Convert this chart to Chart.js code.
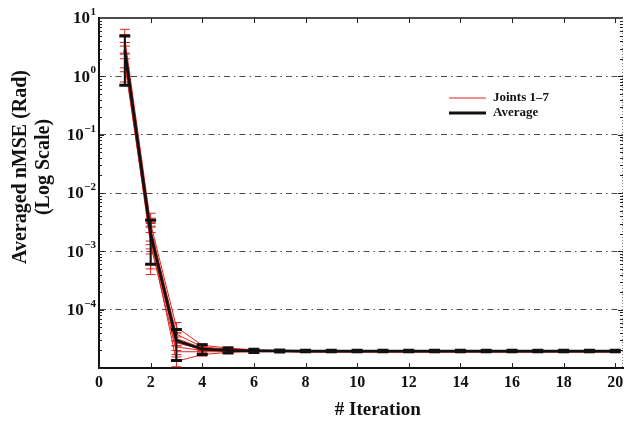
<!DOCTYPE html>
<html>
<head>
<meta charset="utf-8">
<script src="https://cdn.jsdelivr.net/npm/chart.js@4.4.1/dist/chart.umd.min.js"></script>
<style>
  html, body { margin: 0; padding: 0; background: #fff; }
  canvas { display: block; }
</style>
</head>
<body>
<canvas id="chart" width="625" height="425"></canvas>
<script>
// Iterations of the learning procedure
const iterations = [1, 2, 3, 4, 5, 6, 7, 8, 9, 10, 11, 12, 13, 14, 15, 16, 17, 18, 19, 20];

// Averaged nMSE over all joints (mean and standard deviation)
const averageMean = [2.8, 2.0e-3, 2.95e-5, 2.1e-5, 2.0e-5, 1.97e-5, 1.96e-5, 1.95e-5, 1.95e-5, 1.95e-5,
  1.95e-5, 1.95e-5, 1.95e-5, 1.95e-5, 1.95e-5, 1.95e-5, 1.95e-5, 1.95e-5, 1.95e-5, 1.95e-5];
const averageStd = [2.1, 1.4e-3, 1.6e-5, 0.4e-5, 0.2e-5, 0.12e-5, 0.08e-5, 0.06e-5, 0.06e-5, 0.06e-5,
  0.06e-5, 0.06e-5, 0.06e-5, 0.06e-5, 0.06e-5, 0.06e-5, 0.06e-5, 0.06e-5, 0.06e-5, 0.06e-5];

// Per-joint nMSE (mean and standard deviation)
const joint1Mean = [4.4, 3.0e-3, 5.0e-5, 2.45e-5, 2.2e-5, 2.05e-5, 2.0e-5, 1.99e-5, 1.99e-5, 1.99e-5,
  1.99e-5, 1.99e-5, 1.99e-5, 1.99e-5, 1.99e-5, 1.99e-5, 1.99e-5, 1.99e-5, 1.99e-5, 1.99e-5];
const joint1Std = [2.0, 1.5e-3, 1.0e-5, 0.15e-5, 0.1e-5, 0.06e-5, 0.05e-5, 0.03e-5, 0.03e-5, 0.03e-5,
  0.03e-5, 0.03e-5, 0.03e-5, 0.03e-5, 0.03e-5, 0.03e-5, 0.03e-5, 0.03e-5, 0.03e-5, 0.03e-5];
const joint2Mean = [3.5, 2.5e-3, 3.8e-5, 2.3e-5, 2.1e-5, 2.02e-5, 1.98e-5, 1.97e-5, 1.97e-5, 1.97e-5,
  1.97e-5, 1.97e-5, 1.97e-5, 1.97e-5, 1.97e-5, 1.97e-5, 1.97e-5, 1.97e-5, 1.97e-5, 1.97e-5];
const joint2Std = [1.5, 1.2e-3, 0.9e-5, 0.12e-5, 0.08e-5, 0.05e-5, 0.04e-5, 0.03e-5, 0.03e-5, 0.03e-5,
  0.03e-5, 0.03e-5, 0.03e-5, 0.03e-5, 0.03e-5, 0.03e-5, 0.03e-5, 0.03e-5, 0.03e-5, 0.03e-5];
const joint3Mean = [2.6, 2.1e-3, 3.2e-5, 2.2e-5, 2.05e-5, 2.0e-5, 1.97e-5, 1.95e-5, 1.95e-5, 1.95e-5,
  1.95e-5, 1.95e-5, 1.95e-5, 1.95e-5, 1.95e-5, 1.95e-5, 1.95e-5, 1.95e-5, 1.95e-5, 1.95e-5];
const joint3Std = [1.2, 1.0e-3, 0.8e-5, 0.1e-5, 0.08e-5, 0.05e-5, 0.04e-5, 0.03e-5, 0.03e-5, 0.03e-5,
  0.03e-5, 0.03e-5, 0.03e-5, 0.03e-5, 0.03e-5, 0.03e-5, 0.03e-5, 0.03e-5, 0.03e-5, 0.03e-5];
const joint4Mean = [2.3, 1.8e-3, 2.7e-5, 2.1e-5, 2.0e-5, 1.98e-5, 1.96e-5, 1.93e-5, 1.93e-5, 1.93e-5,
  1.93e-5, 1.93e-5, 1.93e-5, 1.93e-5, 1.93e-5, 1.93e-5, 1.93e-5, 1.93e-5, 1.93e-5, 1.93e-5];
const joint4Std = [1.5, 0.9e-3, 0.7e-5, 0.1e-5, 0.07e-5, 0.05e-5, 0.04e-5, 0.03e-5, 0.03e-5, 0.03e-5,
  0.03e-5, 0.03e-5, 0.03e-5, 0.03e-5, 0.03e-5, 0.03e-5, 0.03e-5, 0.03e-5, 0.03e-5, 0.03e-5];
const joint5Mean = [1.6, 1.6e-3, 2.3e-5, 2.0e-5, 1.95e-5, 1.96e-5, 1.95e-5, 1.91e-5, 1.91e-5, 1.91e-5,
  1.91e-5, 1.91e-5, 1.91e-5, 1.91e-5, 1.91e-5, 1.91e-5, 1.91e-5, 1.91e-5, 1.91e-5, 1.91e-5];
const joint5Std = [0.9, 1.0e-3, 0.6e-5, 0.1e-5, 0.07e-5, 0.05e-5, 0.04e-5, 0.03e-5, 0.03e-5, 0.03e-5,
  0.03e-5, 0.03e-5, 0.03e-5, 0.03e-5, 0.03e-5, 0.03e-5, 0.03e-5, 0.03e-5, 0.03e-5, 0.03e-5];
const joint6Mean = [2.0, 1.3e-3, 1.9e-5, 1.9e-5, 1.9e-5, 1.94e-5, 1.93e-5, 1.89e-5, 1.89e-5, 1.89e-5,
  1.89e-5, 1.89e-5, 1.89e-5, 1.89e-5, 1.89e-5, 1.89e-5, 1.89e-5, 1.89e-5, 1.89e-5, 1.89e-5];
const joint6Std = [1.3, 0.8e-3, 0.5e-5, 0.1e-5, 0.07e-5, 0.05e-5, 0.04e-5, 0.03e-5, 0.03e-5, 0.03e-5,
  0.03e-5, 0.03e-5, 0.03e-5, 0.03e-5, 0.03e-5, 0.03e-5, 0.03e-5, 0.03e-5, 0.03e-5, 0.03e-5];
const joint7Mean = [3.2, 1.7e-3, 1.3e-5, 1.7e-5, 1.85e-5, 1.9e-5, 1.9e-5, 1.87e-5, 1.87e-5, 1.87e-5,
  1.87e-5, 1.87e-5, 1.87e-5, 1.87e-5, 1.87e-5, 1.87e-5, 1.87e-5, 1.87e-5, 1.87e-5, 1.87e-5];
const joint7Std = [2.0, 1.3e-3, 0.25e-5, 0.1e-5, 0.07e-5, 0.05e-5, 0.04e-5, 0.03e-5, 0.03e-5, 0.03e-5,
  0.03e-5, 0.03e-5, 0.03e-5, 0.03e-5, 0.03e-5, 0.03e-5, 0.03e-5, 0.03e-5, 0.03e-5, 0.03e-5];

// Axis ticks
const xTickValues = [0, 2, 4, 6, 8, 10, 12, 14, 16, 18, 20];
const yDecadeExponents = [1, 0, -1, -2, -3, -4];

// Text
const xTitle = '# Iteration';
const yTitleLines = ['Averaged nMSE (Rad)', '(Log Scale)'];
const jointsLabel = 'Joints 1\u20137';
const averageLabel = 'Average';

const RED = '#e2231d';
const BLACK = '#111111';
const SERIF = '"Liberation Serif", "Times New Roman", serif';

const jointMeans = [joint1Mean, joint2Mean, joint3Mean, joint4Mean, joint5Mean, joint6Mean, joint7Mean];
const jointStds = [joint1Std, joint2Std, joint3Std, joint4Std, joint5Std, joint6Std, joint7Std];

const toPoints = (means) => iterations.map((it, i) => ({ x: it, y: means[i] }));

// Average first so it is drawn on top of the joints
const datasets = [{
  label: averageLabel,
  data: toPoints(averageMean),
  errors: averageStd,
  borderColor: BLACK,
  borderWidth: 2.8,
  barWidth: 2,
  capWidth: 3,
  capHalf: 5.5,
  pointRadius: 0,
  tension: 0
}];
jointMeans.forEach((m, j) => {
  datasets.push({
    label: jointsLabel,
    data: toPoints(m),
    errors: jointStds[j],
    borderColor: RED,
    borderWidth: 1,
    barWidth: 1,
    capWidth: 1,
    capHalf: 5,
    pointRadius: 0,
    tension: 0
  });
});

// Error bars, frame, inner ticks, superscript labels, titles and legend
const decor = {
  id: 'decor',
  afterDatasetDraw(chart, args) {
    const ds = chart.data.datasets[args.index];
    const { ctx, scales: { x, y } } = chart;
    ctx.save();
    ctx.strokeStyle = ds.borderColor;
    ds.data.forEach((p, i) => {
      const s = ds.errors[i];
      const px = x.getPixelForValue(p.x);
      const top = y.getPixelForValue(p.y + s);
      const bot = y.getPixelForValue(p.y - s);
      ctx.lineWidth = ds.barWidth;
      ctx.beginPath();
      ctx.moveTo(px, top);
      ctx.lineTo(px, bot);
      ctx.stroke();
      ctx.lineWidth = ds.capWidth;
      ctx.beginPath();
      ctx.moveTo(px - ds.capHalf, top);
      ctx.lineTo(px + ds.capHalf, top);
      ctx.moveTo(px - ds.capHalf, bot);
      ctx.lineTo(px + ds.capHalf, bot);
      ctx.stroke();
    });
    ctx.restore();
  },
  afterDraw(chart) {
    const { ctx, chartArea: a, scales: { x, y } } = chart;
    ctx.save();

    // top border
    ctx.strokeStyle = BLACK;
    ctx.lineWidth = 1.5;
    ctx.beginPath();
    ctx.moveTo(a.left, a.top);
    ctx.lineTo(a.right, a.top);
    ctx.stroke();

    // right border
    ctx.strokeStyle = '#888';
    ctx.lineWidth = 1;
    ctx.setLineDash([1, 2]);
    ctx.beginPath();
    ctx.moveTo(a.right - 0.5, a.top);
    ctx.lineTo(a.right - 0.5, a.bottom);
    ctx.stroke();
    ctx.setLineDash([]);

    // x ticks (inside, top and bottom)
    ctx.strokeStyle = '#222';
    ctx.lineWidth = 1;
    xTickValues.forEach(v => {
      const px = Math.round(x.getPixelForValue(v)) + 0.5;
      ctx.beginPath();
      ctx.moveTo(px, a.bottom);
      ctx.lineTo(px, a.bottom - 5);
      ctx.moveTo(px, a.top);
      ctx.lineTo(px, a.top + 5);
      ctx.stroke();
    });

    // y ticks (inside, left and right), decades and minor
    for (let e = -5; e <= 0; e++) {
      for (let k = 1; k <= 9; k++) {
        const v = k * Math.pow(10, e);
        const py = Math.round(y.getPixelForValue(v)) + 0.5;
        const len = k === 1 ? 5 : 3;
        ctx.beginPath();
        ctx.moveTo(a.left, py);
        ctx.lineTo(a.left + len, py);
        ctx.moveTo(a.right, py);
        ctx.lineTo(a.right - len, py);
        ctx.stroke();
      }
    }

    ctx.fillStyle = BLACK;

    // x tick labels
    ctx.font = 'bold 16px ' + SERIF;
    ctx.textAlign = 'center';
    ctx.textBaseline = 'middle';
    xTickValues.forEach(v => {
      ctx.fillText(String(v), x.getPixelForValue(v), a.bottom + 15);
    });

    // y tick labels as 10 with a superscript exponent
    yDecadeExponents.forEach(e => {
      const py = y.getPixelForValue(Math.pow(10, e));
      const expText = e < 0 ? '\u2212' + Math.abs(e) : String(e);
      ctx.font = 'bold 11px ' + SERIF;
      const expW = ctx.measureText(expText).width;
      const right = a.left - 3;
      ctx.textAlign = 'left';
      ctx.textBaseline = 'alphabetic';
      ctx.fillText(expText, right - expW, py - 3);
      ctx.font = 'bold 17px ' + SERIF;
      ctx.textAlign = 'right';
      ctx.textBaseline = 'middle';
      ctx.fillText('10', right - expW - 0.5, py + 1);
    });

    // axis titles
    ctx.font = 'bold 19px ' + SERIF;
    ctx.textAlign = 'center';
    ctx.textBaseline = 'middle';
    ctx.fillText(xTitle, x.getPixelForValue(10.8), a.bottom + 42);

    ctx.font = 'bold 20px ' + SERIF;
    const yMid = 167;
    ctx.save();
    ctx.translate(21, yMid);
    ctx.rotate(-Math.PI / 2);
    ctx.fillText(yTitleLines[0], 0, 0);
    ctx.restore();
    ctx.save();
    ctx.translate(44, yMid);
    ctx.rotate(-Math.PI / 2);
    ctx.fillText(yTitleLines[1], 0, 0);
    ctx.restore();

    // legend
    const entries = [chart.data.datasets[1], chart.data.datasets[0]];
    const lx = a.left + 350, ly = a.top + 80, step = 15;
    ctx.font = 'bold 13px ' + SERIF;
    ctx.textAlign = 'left';
    ctx.textBaseline = 'middle';
    entries.forEach((ds, i) => {
      const yy = ly + i * step;
      ctx.strokeStyle = ds.borderColor;
      ctx.lineWidth = ds.borderWidth;
      ctx.beginPath();
      ctx.moveTo(lx, yy);
      ctx.lineTo(lx + 37, yy);
      ctx.stroke();
      ctx.fillStyle = BLACK;
      ctx.fillText(ds.label, lx + 44, yy);
    });

    ctx.restore();
  }
};

new Chart(document.getElementById('chart'), {
  type: 'line',
  data: { datasets },
  options: {
    responsive: false,
    animation: false,
    devicePixelRatio: 1,
    layout: { padding: { left: 99, right: 2, top: 18, bottom: 57 } },
    plugins: { legend: { display: false }, tooltip: { enabled: false } },
    scales: {
      x: {
        type: 'linear',
        min: 0,
        max: 20.3,
        ticks: { display: false },
        grid: { display: false, drawTicks: false },
        border: { display: true, color: BLACK, width: 2 }
      },
      y: {
        type: 'logarithmic',
        min: 1e-5,
        max: 10,
        afterBuildTicks(scale) {
          scale.ticks = [1e-5, 1e-4, 1e-3, 1e-2, 1e-1, 1, 10].map(v => ({ value: v }));
        },
        ticks: { display: false },
        grid: {
          drawTicks: false,
          lineWidth: 1,
          color: ctx => {
            const v = ctx.tick && ctx.tick.value;
            return (v > 1.5e-5 && v < 5) ? '#4a4a4a' : 'rgba(0,0,0,0)';
          }
        },
        border: { display: true, color: BLACK, width: 2, dash: [6, 4, 1.5, 4] }
      }
    }
  },
  plugins: [decor]
});
</script>
</body>
</html>
